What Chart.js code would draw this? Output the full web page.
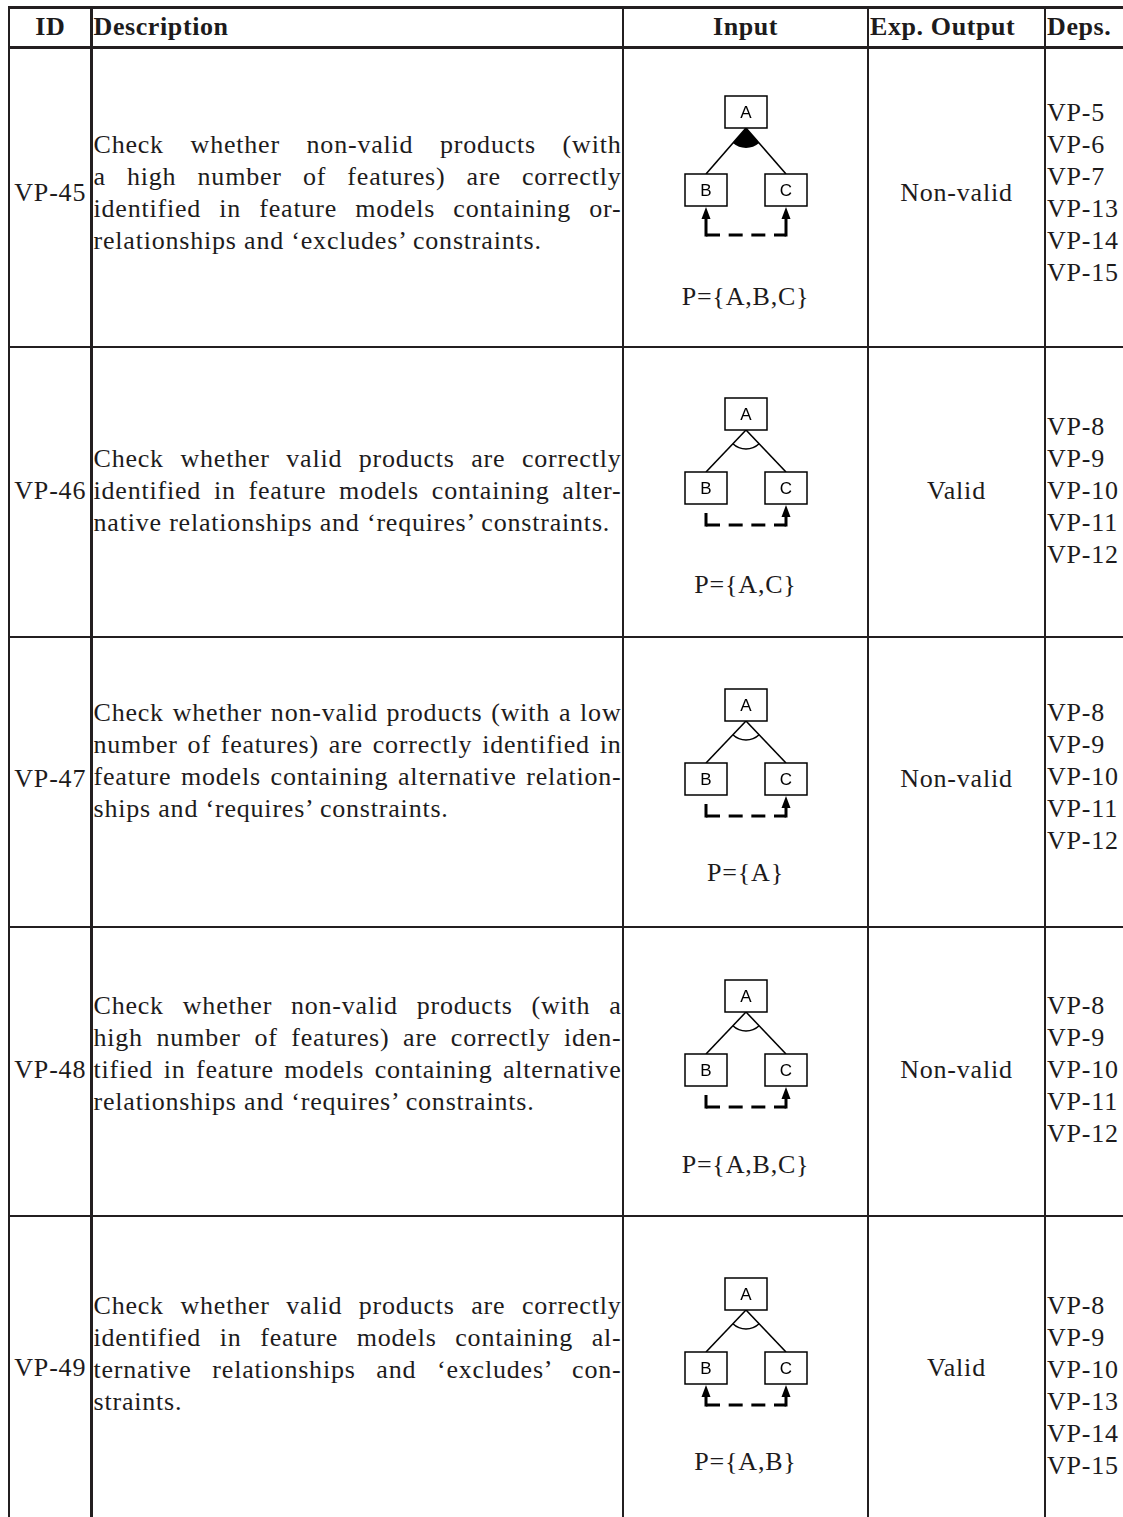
<!DOCTYPE html>
<html><head><meta charset="utf-8">
<script src="https://cdn.jsdelivr.net/npm/chart.js@4.4.1/dist/chart.umd.min.js"></script>
<style>
html,body{margin:0;padding:0;background:#fff;}
#page{position:relative;width:1123px;height:1517px;overflow:hidden;background:#fff;font-family:"Liberation Serif","Times New Roman",serif;color:#1d1b1c;}
.ln{position:absolute;background:#231f20;}
.t{position:absolute;white-space:nowrap;font-size:26px;line-height:32px;letter-spacing:0.8px;}
.b{font-weight:bold;letter-spacing:0.6px;}
.c{text-align:center;}
.dl{position:absolute;font-size:26px;line-height:32px;letter-spacing:0.8px;text-align:justify;text-align-last:justify;}
.dl.last{text-align:left;text-align-last:left;}
canvas{position:absolute;}
</style>
</head><body><div id="page"></div>
<script>
// ---------- DATA ----------
const headers = ['ID','Description','Input','Exp. Output','Deps.'];
const ids = ['VP-45','VP-46','VP-47','VP-48','VP-49'];
const descriptions = [
  ['Check whether non-valid products (with','a high number of features) are correctly','identified in feature models containing or-','relationships and \u2018excludes\u2019 constraints.'],
  ['Check whether valid products are correctly','identified in feature models containing alter-','native relationships and \u2018requires\u2019 constraints.'],
  ['Check whether non-valid products (with a low','number of features) are correctly identified in','feature models containing alternative relation-','ships and \u2018requires\u2019 constraints.'],
  ['Check whether non-valid products (with a','high number of features) are correctly iden-','tified in feature models containing alternative','relationships and \u2018requires\u2019 constraints.'],
  ['Check whether valid products are correctly','identified in feature models containing al-','ternative relationships and \u2018excludes\u2019 con-','straints.']
];
const groupTypes = ['or','alternative','alternative','alternative','alternative'];
const constraintTypes = ['excludes','requires','requires','requires','excludes'];
const products = ['P={A,B,C}','P={A,C}','P={A}','P={A,B,C}','P={A,B}'];
const expectedOutputs = ['Non-valid','Valid','Non-valid','Non-valid','Valid'];
const dependencies = [
  ['VP-5','VP-6','VP-7','VP-13','VP-14','VP-15'],
  ['VP-8','VP-9','VP-10','VP-11','VP-12'],
  ['VP-8','VP-9','VP-10','VP-11','VP-12'],
  ['VP-8','VP-9','VP-10','VP-11','VP-12'],
  ['VP-8','VP-9','VP-10','VP-13','VP-14','VP-15']
];
// feature model tree (same for every row)
const featureNames = ['A','B','C'];
const featureX = [0,-1,1];
const featureLevel = [0,1,1];
const featureParent = [-1,0,0];
const constraintFrom = 1, constraintTo = 2;

// ---------- LAYOUT ----------
const COLS = [9, 91.5, 623, 868, 1045, 1127];
const ROWS = [7.5, 47, 347, 637, 927, 1216];
const PAGE_H = 1517;
const HEADER_Y = 27;
const idY = [193, 491, 779, 1070, 1368];
const descY = [145, 459, 713, 1006, 1306];
const depsY = [113, 427, 713, 1006, 1306];
const diagAy = [112, 414, 705, 996, 1294];
const diagBy = [190, 488, 779, 1070, 1368];
const diagDash = [235, 525, 816, 1107, 1405];
const prodY = [297, 585, 873, 1165, 1462];
const LINE_H = 32;
const DIAG_CX = 746, PX_PER_X = 40;
const BOX_W = 42, BOX_H = 32, ARROW_L = 12, ARROW_HW = 4.5;

const page = document.getElementById('page');
function line(x,y,w,h){const d=document.createElement('div');d.className='ln';d.style.left=x+'px';d.style.top=y+'px';d.style.width=w+'px';d.style.height=h+'px';page.appendChild(d);}
function text(str,cls,x,cy,w){const d=document.createElement('div');d.className='t '+cls;d.textContent=str;d.style.top=(cy-LINE_H/2)+'px';d.style.left=x+'px';if(w!==undefined)d.style.width=w+'px';page.appendChild(d);return d;}

// grid
ROWS.forEach((y,i)=>{const th=(i<2)?3:2.5;line(COLS[0]-1.2,y-th/2,1200,th);});
COLS.forEach(x=>{line(x-1.2,ROWS[0]-1.5,2.4,PAGE_H);});

// header
text(headers[0],'b c',COLS[0],HEADER_Y,COLS[1]-COLS[0]);
text(headers[1],'b',COLS[1]+2,HEADER_Y);
text(headers[2],'b c',COLS[2],HEADER_Y,COLS[3]-COLS[2]);
text(headers[3],'b',COLS[3]+2,HEADER_Y);
text(headers[4],'b',COLS[4]+2,HEADER_Y);

// rows
ids.forEach((id,r)=>{
  text(id,'c',COLS[0],idY[r],COLS[1]-COLS[0]);
  descriptions[r].forEach((ln,i)=>{
    const d=document.createElement('div');
    d.className='dl'+(i===descriptions[r].length-1?' last':'');
    d.textContent=ln;
    d.style.left=(COLS[1]+2)+'px';d.style.width=(COLS[2]-COLS[1]-3.5)+'px';
    d.style.top=(descY[r]-LINE_H/2+i*LINE_H)+'px';
    page.appendChild(d);
  });
  text(products[r],'c',COLS[2],prodY[r],COLS[3]-COLS[2]);
  text(expectedOutputs[r],'c',COLS[3],idY[r],COLS[4]-COLS[3]);
  dependencies[r].forEach((dp,i)=>text(dp,'',COLS[4]+2,depsY[r]+i*LINE_H));
});

// ---------- FEATURE MODEL PLUGIN ----------
const fmPlugin = {
  id:'fm',
  afterDatasetsDraw(chart,args,opts){
    const ctx=chart.ctx, xs=chart.scales.x, ys=chart.scales.y;
    ctx.save();
    const px=i=>xs.getPixelForValue(featureX[i]);
    const py=i=>ys.getPixelForValue(featureLevel[i]);
    // group arc at parent bottom
    const ax=px(0), ab=py(0)+BOX_H/2;
    const children=featureParent.map((p,i)=>p===0?i:-1).filter(i=>i>=0);
    const angs=children.map(c=>Math.atan2((py(c)-BOX_H/2)-ab, px(c)-ax));
    const a0=Math.min(...angs), a1=Math.max(...angs);
    ctx.strokeStyle='#000';ctx.fillStyle='#000';ctx.lineWidth=1.5;
    ctx.beginPath();
    if(opts.group==='or'){ctx.moveTo(ax,ab);ctx.arc(ax,ab,20,a0,a1);ctx.closePath();ctx.fill();}
    else {ctx.arc(ax,ab,19,a0,a1);ctx.stroke();}
    // arrows
    const arrow=(i)=>{const x=px(i), tip=py(i)+BOX_H/2+1;ctx.beginPath();ctx.moveTo(x,tip);ctx.lineTo(x-ARROW_HW,tip+ARROW_L);ctx.lineTo(x+ARROW_HW,tip+ARROW_L);ctx.closePath();ctx.fill();};
    arrow(constraintTo);
    if(opts.constraint==='excludes') arrow(constraintFrom);
    // boxes
    featureNames.forEach((n,i)=>{
      const x=px(i), y=py(i);
      ctx.fillStyle='#fff';ctx.fillRect(x-BOX_W/2,y-BOX_H/2,BOX_W,BOX_H);
      ctx.strokeStyle='#000';ctx.lineWidth=1.5;ctx.strokeRect(x-BOX_W/2,y-BOX_H/2,BOX_W,BOX_H);
      ctx.fillStyle='#000';ctx.font='17px "Liberation Sans", Arial, sans-serif';ctx.textAlign='center';ctx.textBaseline='middle';
      ctx.fillText(n,x,y+1);
    });
    ctx.restore();
  }
};

ids.forEach((id,r)=>{
  const top=ROWS[r+1]+2, bottom=(r+2<ROWS.length?ROWS[r+2]:PAGE_H)-1;
  const left=COLS[2]+2, right=COLS[3]-1.5;
  const W=Math.round(right-left), H=Math.round(bottom-top);
  const cv=document.createElement('canvas');
  cv.width=W;cv.height=H;cv.style.left=left+'px';cv.style.top=top+'px';cv.style.width=W+'px';cv.style.height=H+'px';
  page.appendChild(cv);
  const ay=diagAy[r], ppl=diagBy[r]-diagAy[r];
  const hh=(BOX_H/2)/ppl, arr=ARROW_L/ppl, dashL=(diagDash[r]-ay)/ppl, ext=1.5/ppl;
  const nodes=featureNames.map((n,i)=>({x:featureX[i],y:featureLevel[i]}));
  const base={showLine:true,pointRadius:0,borderColor:'#000',backgroundColor:'#000',clip:false,fill:false,tension:0};
  const ds=[{...base,showLine:false,data:nodes}];
  featureParent.forEach((p,i)=>{ if(p>=0) ds.push({...base,borderWidth:1.6,data:[{x:featureX[p],y:featureLevel[p]+hh},{x:featureX[i],y:featureLevel[i]-hh}]}); });
  const fx=featureX[constraintFrom], tx=featureX[constraintTo];
  const fStart=featureLevel[constraintFrom]+hh+(constraintTypes[r]==='excludes'?arr+1/ppl:9/ppl);
  const tEnd=featureLevel[constraintTo]+hh+arr+1/ppl;
  ds.push({...base,borderWidth:3,data:[{x:fx,y:fStart},{x:fx,y:dashL+ext}]});
  ds.push({...base,borderWidth:3,borderDash:[14,8.67],data:[{x:fx,y:dashL},{x:tx,y:dashL}]});
  ds.push({...base,borderWidth:3,data:[{x:tx,y:dashL+ext},{x:tx,y:tEnd}]});
  new Chart(cv,{
    type:'scatter',
    data:{datasets:ds},
    options:{
      responsive:false,maintainAspectRatio:false,animation:false,devicePixelRatio:1,
      layout:{padding:0},
      plugins:{legend:{display:false},tooltip:{enabled:false},fm:{group:groupTypes[r],constraint:constraintTypes[r]}},
      scales:{
        x:{type:'linear',display:false,min:(left-DIAG_CX)/PX_PER_X,max:(left+W-DIAG_CX)/PX_PER_X},
        y:{type:'linear',display:false,reverse:true,min:(top-ay)/ppl,max:(top+H-ay)/ppl}
      }
    },
    plugins:[fmPlugin]
  });
});
</script>
</body></html>
